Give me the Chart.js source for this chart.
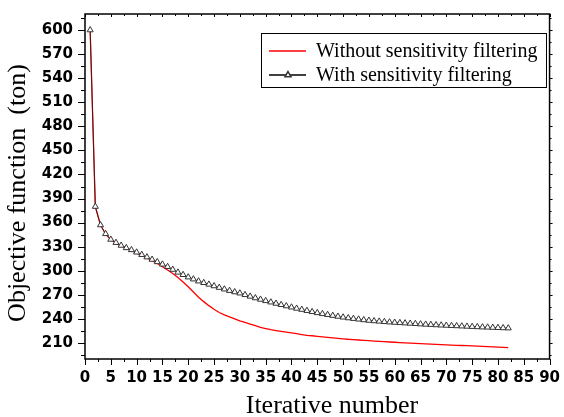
<!DOCTYPE html>
<html>
<head>
<meta charset="utf-8">
<script src="https://cdn.jsdelivr.net/npm/chart.js@4.4.1/dist/chart.umd.min.js"></script>
<style>
  html, body { margin: 0; padding: 0; background: #fff; }
  canvas { display: block; }
</style>
</head>
<body>
<canvas id="chart" width="564" height="417"></canvas>
<script>
// iteration numbers
const iterations = [
  1, 2, 3, 4, 5, 6, 7, 8, 9, 10, 11, 12, 13, 14, 15, 16, 17, 18, 19, 20,
  21, 22, 23, 24, 25, 26, 27, 28, 29, 30, 31, 32, 33, 34, 35, 36, 37, 38, 39, 40,
  41, 42, 43, 44, 45, 46, 47, 48, 49, 50, 51, 52, 53, 54, 55, 56, 57, 58, 59, 60,
  61, 62, 63, 64, 65, 66, 67, 68, 69, 70, 71, 72, 73, 74, 75, 76, 77, 78, 79, 80,
  81, 82
];

// objective function (ton), without sensitivity filtering
const withoutFilter = [
  600, 380, 357, 345.5, 338.5, 334.5, 331, 328, 325, 322, 319, 316, 312.5, 309, 305, 301, 296.5, 291.5, 286, 280,
  273.5, 267, 261.5, 256.5, 252, 248, 245, 242.5, 240, 237.5, 235.5, 233.5, 231.5, 229.5, 228, 226.5, 225.5, 224.5, 223.5, 222.5,
  221.5, 220.5, 219.5, 219, 218.3, 217.6, 217, 216.3, 215.7, 215.2, 214.6, 214.2, 213.7, 213.2, 212.8, 212.4, 212, 211.6, 211.2, 210.9,
  210.5, 210.2, 209.8, 209.5, 209.2, 208.9, 208.6, 208.3, 208, 207.7, 207.4, 207.1, 206.8, 206.6, 206.3, 206, 205.7, 205.4, 205.1, 204.8,
  204.5, 204.2
];

// objective function (ton), with sensitivity filtering
const withFilter = [
  600, 380, 357, 346, 339, 335, 331.5, 328.5, 326, 323, 320, 317, 314, 311, 308, 305, 301.5, 298, 295, 292,
  289.5, 287, 285, 283, 281, 279, 277, 275.2, 273.5, 272, 270, 268, 266, 264.2, 262.5, 260.8, 259.2, 257.6, 256, 254.5,
  253, 251.6, 250.2, 248.8, 247.5, 246.3, 245.2, 244.1, 243, 242, 241.1, 240.3, 239.5, 238.7, 238, 237.4, 236.9, 236.4, 235.9, 235.5,
  235.1, 234.7, 234.3, 233.9, 233.5, 233.1, 232.8, 232.4, 232.1, 231.8, 231.5, 231.2, 230.9, 230.6, 230.3, 230, 229.7, 229.5, 229.2, 229,
  228.7, 228.5
];

const seriesNames = ['Without sensitivity filtering', 'With sensitivity filtering'];
const lineColors = ['#ff0000', 'rgba(30, 30, 30, 0.8)'];
const markerColor = '#333333';

const yTickValues = [210, 240, 270, 300, 330, 360, 390, 420, 450, 480, 510, 540, 570, 600];

const xTitle = 'Iterative number';
const yTitle = 'Objective function  (ton)';

const serif = '"Liberation Serif", "Times New Roman", serif';
const tickFont = { family: '"DejaVu Sans", "Liberation Sans", Arial, sans-serif', size: 15, weight: 'bold' };

function points(ys) {
  return iterations.map((x, i) => ({ x: x, y: ys[i] }));
}

// frame, ticks on all four sides, axis titles and the boxed legend
const decorations = {
  id: 'decorations',
  afterDraw(chart) {
    const ctx = chart.ctx;
    const a = chart.chartArea;
    const xs = chart.scales.x;
    const ys = chart.scales.y;

    ctx.save();
    ctx.strokeStyle = '#000';
    ctx.lineWidth = 1.5;
    ctx.strokeRect(a.left, a.top, a.right - a.left, a.bottom - a.top);

    ctx.lineWidth = 1;
    ctx.beginPath();
    for (let v = 0; v <= 90; v += 2.5) {
      const px = Math.round(xs.getPixelForValue(v)) + 0.5;
      const major = v % 5 === 0;
      ctx.moveTo(px, a.bottom);
      ctx.lineTo(px, a.bottom + (major ? 6 : 3));
      ctx.moveTo(px, a.top);
      ctx.lineTo(px, a.top + (major ? 3 : 2));
    }
    for (let v = 195; v <= 615; v += 15) {
      const py = Math.round(ys.getPixelForValue(v)) + 0.5;
      const major = yTickValues.includes(v);
      ctx.moveTo(a.left - (major ? 7 : 4), py);
      ctx.lineTo(a.left, py);
      ctx.moveTo(a.right, py);
      ctx.lineTo(a.right + (major ? 3 : 2), py);
    }
    ctx.stroke();

    // axis titles
    ctx.fillStyle = '#000';
    ctx.font = '26px ' + serif;
    ctx.textAlign = 'center';
    ctx.textBaseline = 'alphabetic';
    ctx.fillText(xTitle, 332, 413);
    ctx.translate(25, 193);
    ctx.rotate(-Math.PI / 2);
    ctx.fillText(yTitle, 0, 0);
    ctx.restore();

    // legend
    ctx.save();
    ctx.strokeStyle = '#000';
    ctx.lineWidth = 1;
    ctx.strokeRect(261.5, 33.5, 285, 54);
    const rows = [51, 75];
    ctx.font = '20px ' + serif;
    ctx.textAlign = 'left';
    ctx.textBaseline = 'alphabetic';
    rows.forEach((y, i) => {
      ctx.strokeStyle = i === 0 ? lineColors[0] : '#000';
      ctx.lineWidth = 1.5;
      ctx.beginPath();
      ctx.moveTo(269, y);
      ctx.lineTo(306, y);
      ctx.stroke();
      if (i === 1) {
        ctx.fillStyle = '#fff';
        ctx.strokeStyle = markerColor;
        Chart.helpers.drawPoint(ctx, {
          pointStyle: 'triangle', radius: 3.5, rotation: 0, borderWidth: 1
        }, 288, y);
      }
      ctx.fillStyle = '#000';
      ctx.fillText(seriesNames[i], 316, y + 5.5);
    });
    ctx.restore();
  }
};

new Chart(document.getElementById('chart'), {
  type: 'line',
  data: {
    datasets: [{
      label: seriesNames[0],
      data: points(withoutFilter),
      borderColor: lineColors[0],
      borderWidth: 1.3,
      pointRadius: 0,
      tension: 0,
      order: 1
    }, {
      label: seriesNames[1],
      data: points(withFilter),
      borderColor: lineColors[1],
      borderWidth: 1,
      pointStyle: 'triangle',
      pointRadius: 3.5,
      pointBorderWidth: 1,
      pointBorderColor: markerColor,
      pointBackgroundColor: '#ffffff',
      tension: 0,
      order: 0
    }]
  },
  options: {
    responsive: false,
    animation: false,
    layout: { padding: { left: 0, right: 10, top: 9, bottom: 0 } },
    plugins: {
      legend: { display: false },
      tooltip: { enabled: false }
    },
    scales: {
      x: {
        type: 'linear',
        min: 0,
        max: 90,
        grid: { display: false, drawTicks: true, tickLength: 6 },
        border: { display: false },
        ticks: {
          stepSize: 5,
          autoSkip: false,
          maxRotation: 0,
          padding: 4,
          color: '#000',
          font: tickFont
        },
        afterFit(scale) { scale.height = 58; }
      },
      y: {
        type: 'linear',
        min: 190,
        max: 620,
        grid: { display: false, drawTicks: true, tickLength: 7 },
        border: { display: false },
        afterBuildTicks(scale) {
          scale.ticks = yTickValues.map(v => ({ value: v }));
        },
        ticks: {
          padding: 5,
          color: '#000',
          font: tickFont
        },
        afterFit(scale) { scale.width = 85; }
      }
    }
  },
  plugins: [decorations]
});
</script>
</body>
</html>
